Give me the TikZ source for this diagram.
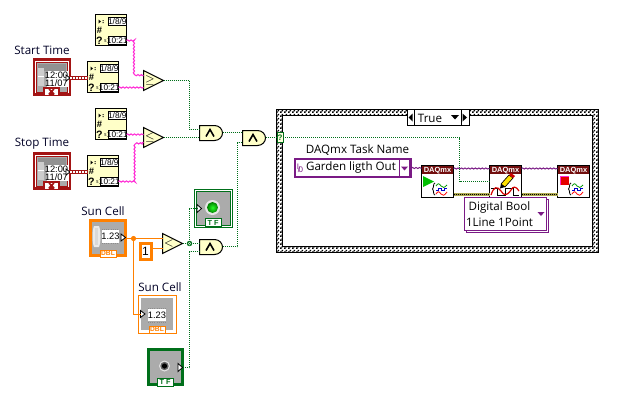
\documentclass[tikz,border=0pt]{standalone}
\usepackage{fontspec}
\setmainfont{Open Sans}
\newfontfamily\smallfont{Liberation Sans}
\usetikzlibrary{decorations.pathmorphing,patterns}
\definecolor{lvyellow}{HTML}{FFFFC8}
\definecolor{lvgreen}{HTML}{006F1A}
\definecolor{lvorange}{HTML}{FF8000}
\definecolor{lvpurple}{HTML}{7A1A85}
\definecolor{lvred}{HTML}{A31414}
\definecolor{lvmag}{HTML}{FF2BD5}
\definecolor{lvgray}{HTML}{ABABAB}
\pgfdeclarepatternformonly{lvcheck}{\pgfqpoint{0pt}{0pt}}{\pgfqpoint{3pt}{3pt}}{\pgfqpoint{3pt}{3pt}}{%
  \pgfpathrectangle{\pgfqpoint{0pt}{0pt}}{\pgfqpoint{1.5pt}{1.5pt}}%
  \pgfpathrectangle{\pgfqpoint{1.5pt}{1.5pt}}{\pgfqpoint{1.5pt}{1.5pt}}%
  \pgfusepath{fill}}
\tikzset{
  x=.75pt,y=-.75pt,
  lab/.style={inner sep=0pt,font=\fontsize{8.7}{10}\selectfont,text=black!85!blue},
  tiny/.style={inner sep=0pt,font=\smallfont\fontsize{6.2}{7}\selectfont},
  tagtext/.style={inner sep=0pt,font=\smallfont\bfseries\fontsize{5}{5}\selectfont},
  blk/.style={draw=black,line width=.75pt},
  stampw/.style={decorate,decoration={snake,amplitude=.45pt,segment length=2.6pt},draw=lvmag,line width=.8pt},
  purpw/.style={decorate,decoration={snake,amplitude=.4pt,segment length=2.6pt},draw=lvpurple,line width=.75pt},
  boolw/.style={draw=lvgreen,line width=.75pt,dash pattern=on .75pt off .75pt},
  orw/.style={draw=lvorange,line width=.75pt},
  pics/tconst/.style={code={
    \draw[blk,fill=lvyellow] (0,0) rectangle (31,31);
    \draw[blk,fill=white] (13,3) rectangle (30.5,10.5);
    \draw[blk,fill=white] (13,22) rectangle (30.5,30);
    \node[tiny] (-a) at (21.8,6.8) {1/8/9};
    \node[tiny] (-b) at (21.8,26) {10:21};
    \fill[black] (3,5) -- (5.5,7) -- (3,9) -- cycle;
    \fill[black] (7,5.5) rectangle (8,6.5) (7,7.5) rectangle (8,8.5);
    \node[inner sep=0pt,font=\smallfont\bfseries\fontsize{7}{7}\selectfont] (-d) at (4,15.5) {\#};
    \node[inner sep=0pt,font=\smallfont\bfseries\fontsize{8}{8}\selectfont] (-e) at (4,26) {?};
    \node[inner sep=0pt,font=\fontsize{4}{4}\selectfont] (-f) at (10,27) {s};
    \coordinate (-in) at (0,15.5);
    \coordinate (-out) at (31,26);
  }},
  pics/cmp/.style={code={
    \draw[blk,fill=lvyellow,line join=miter] (0,0) -- (20,10) -- (0,20) -- cycle;
    \node[inner sep=0pt,font=\smallfont\bfseries\fontsize{9}{9}\selectfont] (-s) at (6.5,10) {#1};
    \coordinate (-i1) at (0,5);
    \coordinate (-i2) at (0,15);
    \coordinate (-out) at (20,10);
  }},
  pics/andg/.style={code={
    \draw[blk,fill=lvyellow] (0,0) -- (15,0) .. controls (20,0) and (23,4) .. (23,7.5) .. controls (23,11) and (20,15) .. (15,15) -- (0,15) -- cycle;
    \draw[black,line width=1.2pt] (6.5,11) -- (10.5,4) -- (14.5,11);
    \coordinate (-i1) at (0,4);
    \coordinate (-i2) at (0,12);
    \coordinate (-out) at (23,7);
  }},
  pics/tsctl/.style={code={
    \draw[lvred,line width=1.9pt,fill=lvgray] (1.2,1.2) rectangle (36.6,35.8);
    \draw[white,line width=.6pt] (2.8,2.8) rectangle (35,34.2);
    \draw[lvred,line width=.6pt] (3.6,3.6) rectangle (34.2,33.4);
    \fill[lvgray!85!black] (5,5) -- (33,5) -- (33,12) -- (5,12) -- cycle;
    \fill[lvgray] (5,12) rectangle (33,29);
    \fill[white] (4.5,9) rectangle (11,27);
    \fill[lvgray!60] (5,9) rectangle (10.5,17.5);
    \fill[lvgray!60] (5,18.5) rectangle (10.5,27);
    \fill[white] (14,12) rectangle (35,28.5);
    \node[inner sep=0pt,font=\smallfont\fontsize{7}{8}\selectfont] (-t1) at (23.5,16.5) {12:00};
    \node[inner sep=0pt,font=\smallfont\fontsize{7}{8}\selectfont] (-t2) at (23.5,25) {11/07};
    \draw[black,line width=.6pt,fill=white] (33,16.5) -- (37,19.5) -- (33,22.5) -- cycle;
    \fill[white] (11,29.5) rectangle (26,37);
    \fill[lvred] (15,37) -- (18.5,33) -- (22,37) -- cycle;
    \draw[lvred,line width=1.1pt] (16,30.5) -- (21,35.5) (21,30.5) -- (16,35.5);
    \draw[lvred,line width=.9pt] (11,29.5) rectangle (26,37);
    \coordinate (-out) at (37,19.5);
  }},
  pics/dblctl/.style={code={
    \draw[lvorange,line width=2.25pt,fill=lvgray] (1.5,1.5) rectangle (36.5,36.5);
    \fill[white!75!lvgray] (5,7) .. controls (3,12) and (3,23) .. (5,28) -- (10,28) .. controls (12,23) and (12,12) .. (10,7) -- cycle;
    \fill[lvgray!45] (5.5,9) rectangle (9,26);
    \draw[black!45,line width=.6pt,densely dotted] (13,10) -- (30,10) (13,24.5) -- (30,24.5);
    \fill[white] (13,11) rectangle (30,24);
    \node[inner sep=0pt,font=\smallfont\fontsize{7}{8}\selectfont] (-t) at (21.5,17.5) {1.23};
    \draw[black,line width=.6pt,fill=white] (32,15) -- (36.5,18.5) -- (32,22) -- cycle;
    \draw[lvorange,line width=.75pt,fill=white] (11,31) rectangle (27,38);
    \node[tagtext,text=lvorange] (-tag) at (19,34.6) {DBL};
    \coordinate (-out) at (37,19.5);
  }},
  pics/dblind/.style={code={
    \draw[lvorange,line width=.75pt,fill=white] (0,0) rectangle (38,38);
    \fill[lvgray] (3,3) rectangle (35,35);
    \draw[black!45,line width=.6pt,densely dotted] (10,13) -- (28,13) (10,27) -- (28,27);
    \fill[white] (10,14) rectangle (28,26);
    \node[inner sep=0pt,font=\smallfont\fontsize{7}{8}\selectfont] (-t) at (19,20) {1.23};
    \draw[black,line width=.6pt,fill=white] (2.5,15.5) -- (7,19) -- (2.5,22.5) -- cycle;
    \draw[lvorange,line width=.75pt,fill=white] (11,31) rectangle (27,38);
    \node[tagtext,text=lvorange] (-tag) at (19,34.6) {DBL};
    \coordinate (-in) at (2.5,19.5);
  }},
  pics/vibody/.style={code={
    \draw[blk,fill=white] (0,0) rectangle (32,32);
    \fill[lvred!70!black] (.4,.4) rectangle (31.6,8.5);
    \node[inner sep=0pt,text=white,font=\smallfont\bfseries\fontsize{5.6}{6}\selectfont] (-h) at (16,4.7) {DAQmx};
    \coordinate (-tl) at (0,3);
    \coordinate (-tr) at (32,3);
    \coordinate (-bl) at (0,29);
    \coordinate (-br) at (32,29);
    \coordinate (-m) at (0,25.5);
  }},
  pics/waves/.style={code={
    \draw[black,line width=.6pt] (3,0) .. controls (1,0) and (2,5) .. (0.5,6) .. controls (2,7) and (1,12) .. (3,12);
    \draw[green!60!black,line width=.6pt] (4,3) .. controls (6,0) and (7,0) .. (9,3) .. controls (11,5) and (12,5) .. (15,2);
    \draw[blue!80!black,line width=.7pt] (4,7) -- (6,7) -- (6,5) -- (9,5) -- (9,7) -- (12,7) -- (12,5) -- (15,5);
    \draw[red,line width=.6pt] (4,11) .. controls (6,8) and (7,8) .. (9,11) .. controls (11,13) and (12,13) .. (15,9);
  }}
}
\begin{document}
\begin{tikzpicture}
\useasboundingbox (0,0) rectangle (623,400);
\fill[white] (0,0) rectangle (623,400);

% case structure
\fill[white,even odd rule] (276,109.5) rectangle (598,252.5) (282,115.5) rectangle (592,246.5);
\fill[pattern=lvcheck,pattern color=black,even odd rule] (276,109.5) rectangle (598,252.5) (282,115.5) rectangle (592,246.5);
\draw[black,line width=.6pt] (276,109.5) rectangle (598,252.5);
\draw[black,line width=.6pt] (282,115.5) rectangle (592,246.5);
\draw[blk,fill=white] (407,109.5) rectangle (469,125);
\draw[black,line width=.75pt] (414,109.5) -- (414,125) (461,109.5) -- (461,125);
\fill[black] (412.5,113.5) -- (408.5,117.5) -- (412.5,121.5) -- cycle;
\fill[black] (462.5,113.5) -- (467,117.5) -- (462.5,121.5) -- cycle;
\fill[black] (451,115) -- (459,115) -- (455,119.5) -- cycle;
\node[lab,text=black] (truelab) at (430,118) {True};

% left pics
\pic (k1) at (95.5,14.5) {tconst};
\pic (k2) at (87.5,61.5) {tconst};
\pic (k3) at (95.5,108.5) {tconst};
\pic (k4) at (87.5,155.5) {tconst};
\pic (ge) at (143.5,70.5) {cmp={$\geq$}};
\pic (le) at (143.5,127.5) {cmp={$\leq$}};
\pic (and1) at (199.5,125.5) {andg};
\pic (and2) at (242.5,130.5) {andg};
\pic (c1) at (33,58.5) {tsctl};
\pic (c2) at (33,152.5) {tsctl};
\node[lab] (startlab) at (42,50) {Start Time};
\node[lab] (stoplab) at (42,144) {Stop Time};

% wires upper left
\draw[stampw] (k1-out) -| (133.5,75.5) -- (ge-i1);
\draw[stampw] (k2-out) -- (k2-out -| ge-i2);
\draw[stampw] (k3-out) -- (k3-out -| le-i1);
\draw[stampw] (k4-out) -| (133.5,142.5) -- (le-i2);
\foreach \a/\b in {c1-out/k2-in,c2-out/k4-in}{
  \draw[lvred,line width=2.7pt] (\a) -- (\a -| \b);
  \draw[white,line width=.8pt,dash pattern=on 1.5pt off .75pt] (\a) -- (\a -| \b);
}
\draw[boolw] (ge-out) -| (189.5,129.5) -- (and1-i1);
\draw[boolw] (le-out) -- (le-out -| and1-i2);
\draw[boolw] (and1-out) -- (and1-out -| and2-i1);

% lower left
\pic (sc) at (89,219) {dblctl};
\pic (si) at (138,295) {dblind};
\pic (lt) at (162.5,233.5) {cmp={$<$}};
\pic (and3) at (199.5,239.5) {andg};
\node[lab] (sc1lab) at (103,211) {Sun Cell};
\node[lab] (sc2lab) at (160,287) {Sun Cell};

\draw[lvorange,line width=2.25pt,fill=white] (140,243) rectangle (151,259);
\node[inner sep=0pt,font=\smallfont\fontsize{9}{10}\selectfont] (one) at (145.5,251) {1};
\coordinate (oneout) at (152,248.5);

% LED
\draw[lvgreen,line width=.75pt] (194,189) rectangle (232,227);
\fill[white] (194.5,189.5) rectangle (231.5,226.5);
\draw[lvgreen,line width=.75pt] (196,191) rectangle (230,225);
\fill[lvgray] (196.5,191.5) rectangle (229.5,224.5);
\fill[white!70!lvgray] (212.5,207.5) circle (7.5);
\shade[inner color=green!85!white,outer color=green!50!black] (212.5,207.5) circle (5.5);
\draw[black,line width=.6pt,fill=white] (197,204.5) -- (201.5,208.5) -- (197,212.5) -- cycle;
\draw[lvgreen,line width=.75pt,fill=white] (205,218.5) rectangle (221,226.5);
\node[tagtext,text=lvgreen,font=\smallfont\bfseries\fontsize{5.5}{5}\selectfont] (ledtag) at (213,222.7) {T F};
\coordinate (ledin) at (197,208.5);

% button
\draw[lvgreen,line width=2.25pt,fill=lvgray] (148.5,349.5) rectangle (182,384.5);
\fill[white!65!lvgray] (164.5,366) circle (5.5);
\fill[black!60] (164.5,366) circle (4.2);
\fill[black] (164.5,366) circle (2.6);
\draw[black,line width=.6pt,fill=white] (178,363.5) -- (182.5,367.5) -- (178,371.5) -- cycle;
\draw[lvgreen,line width=.75pt,fill=white] (157,378) rectangle (173,386);
\node[tagtext,text=lvgreen,font=\smallfont\bfseries\fontsize{5.5}{5}\selectfont] (btntag) at (165,382.2) {T F};
\coordinate (btnout) at (182.5,367.5);

% wires lower left
\coordinate (jo) at (133.5,238.5);
\coordinate (jg) at (189.5,243.5);
\draw[orw] (sc-out) -- (jo) -- (jo -| lt-i1);
\draw[orw] (oneout) -- (oneout -| lt-i2);
\draw[orw] (jo) |- (si-in);
\fill[lvorange] (jo) circle (2.6);
\draw[boolw] (lt-out) -- (and3-i1);
\draw[boolw] (jg) |- (ledin);
\draw[boolw] (btnout) -| (jg |- and3-i2) -- (and3-i2);
\draw[lvgreen,line width=.6pt] (jg) circle (2.3);
\draw[lvgreen,line width=.5pt] (188,242) -- (191,245) (188,245) -- (191,242);
\draw[boolw] (and3-out) -| (237.5,142.5) -- (and2-i2);

% selector terminal
\coordinate (selin) at (277,137.5);
\draw[boolw] (and2-out) -- (and2-out -| selin);
\draw[lvgreen,line width=.75pt,fill=lvyellow!60] (277,132.5) rectangle (283,142.5);
\node[inner sep=0pt,font=\smallfont\bfseries\fontsize{6}{6}\selectfont,text=lvgreen] (sel) at (280,137.5) {?};
\coordinate (selout) at (283,137.5);

% case contents
\node[lab,text=black] (tasklab) at (357.5,150) {DAQmx Task Name};
\draw[lvpurple,line width=1.9pt,fill=white] (295,159) rectangle (410.5,177);
\draw[lvpurple,line width=.75pt] (399,159) -- (399,177);
\node[lab,text=black] (tasktxt) at (351,167.5) {Garden ligth Out};
\node[inner sep=0pt,font=\smallfont\fontsize{6}{6}\selectfont,text=lvpurple] (io) at (300,168) {I\raisebox{-2pt}{\kern-1pt/\kern-1pt0}};
\fill[lvpurple] (401,166.5) -- (408,166.5) -- (404.5,170.5) -- cycle;
\coordinate (taskout) at (411.5,168);

\pic (v1) at (421.5,165.5) {vibody};
\pic (v2) at (489.5,165.5) {vibody};
\pic (v3) at (557.5,165.5) {vibody};

\foreach \a/\b in {taskout/v1-tl,v1-tr/v2-tl,v2-tr/v3-tl}{
  \draw[purpw] (\a) -- (\a -| \b);
}
\foreach \a/\b in {v1-br/v2-bl,v2-br/v3-bl}{
  \draw[yellow!60!black!90,line width=2.6pt] (\a) -- (\b);
  \draw[black,line width=.7pt,dash pattern=on .75pt off .75pt] (\a) -- (\b);
}
\draw[boolw] (selout) -| (459.5,181.5) -- (v2-m |- 0,181.5);

% icons
\fill[green!75!black] (423,176) -- (434,181.5) -- (423,187) -- cycle;
\pic at (432,183) {waves};
\pic at (568,183) {waves};
\fill[red!90!black] (560,176) rectangle (569,185);
\draw[lvmag,line width=.75pt] (560,185) -- (560,176) -- (569,176);
% pencil
\fill[yellow!85!orange,draw=black,line width=.5pt] (501,184) -- (509,175) -- (513,178) -- (505,187) -- cycle;
\fill[black] (501,184) -- (500,188.5) -- (505,187) -- cycle;
\fill[red!80!black] (509,175) -- (511,173) -- (515,176) -- (513,178) -- cycle;
% output waveform
\draw[black,line width=.7pt] (491,188) -- (497,188) -- (497,195) -- (505,195) -- (505,188) -- (513,188) -- (513,195) -- (519,195);
\draw[red!85!black,line width=.9pt] (491,195) .. controls (494,186) and (497,186) .. (501,191) .. controls (504,196) and (507,196) .. (511,190) .. controls (513,186) and (516,186) .. (519,191);

% type selector
\draw[lvpurple,line width=.75pt,fill=white] (466,199) rectangle (548,232);
\draw[lvpurple,line width=.75pt,fill=white] (464,197) rectangle (546,230);
\node[lab,text=black] (seltop) at (499.5,207) {Digital Bool};
\node[lab,text=black] (selbot) at (499.5,222) {1Line 1Point};
\fill[lvpurple] (537.5,212) -- (544.5,212) -- (541,216) -- cycle;
\end{tikzpicture}
\end{document}
